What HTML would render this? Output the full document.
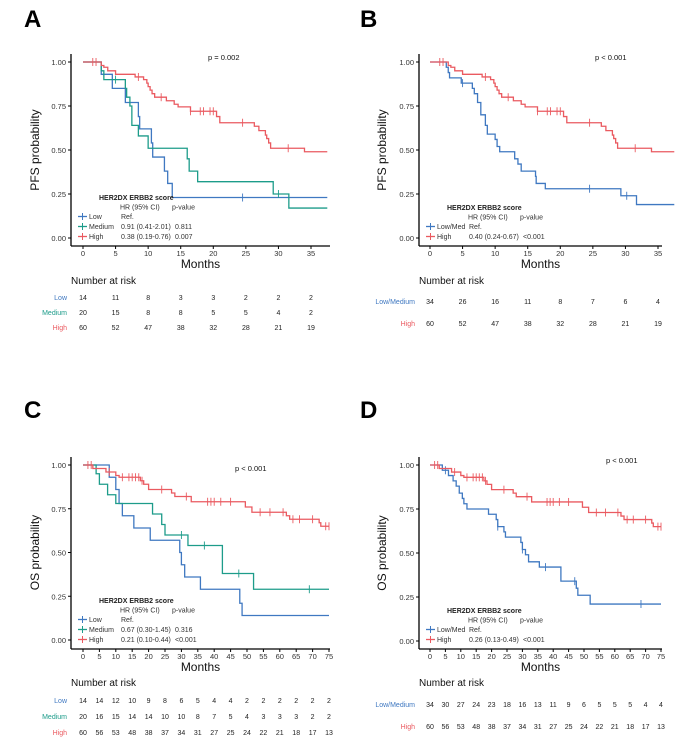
<!DOCTYPE html>
<html><head><meta charset="utf-8"><style>
html,body{margin:0;padding:0;background:#fff;}
svg{display:block;font-family:"Liberation Sans",Arial,sans-serif;}
</style></head><body>
<svg id="fig" width="695" height="743" viewBox="0 0 695 743">
<defs>
<clipPath id="clipC"><rect x="0" y="380" width="334" height="363"/></clipPath>
<clipPath id="clipD"><rect x="347" y="380" width="318" height="363"/></clipPath>
</defs>
</svg>
<script>
// ---------- data ----------
const pfsTimesTicks=[0,5,10,15,20,25,30,35];
const osTimesTicks=[0,5,10,15,20,25,30,35,40,45,50,55,60,65,70,75];
const yTicks=[0,0.25,0.5,0.75,1];
const yTickLabels=["0.00","0.25","0.50","0.75","1.00"];

const aLowT=[0,2.8,4.5,6.5,7,8.5,8.7,10.5,10.7,12.5,13,13.7,37.5];
const aLowS=[1,0.93,0.85,0.77,0.77,0.69,0.62,0.54,0.46,0.38,0.31,0.23,0.23];
const aLowC=[24.5];
const aMedT=[0,2.8,3.2,6.5,6.7,7.2,7.5,8.5,10,16,16.3,17.6,29.2,31.6,37.5];
const aMedS=[1,0.95,0.90,0.85,0.80,0.75,0.64,0.58,0.51,0.45,0.38,0.32,0.25,0.17,0.17];
const aMedC=[5,30];
const pfsHighT=[0,2.8,3.2,3.8,5,8,9.3,9.8,10,10.3,10.6,11,12.8,14,14.6,16.5,20.5,21,26.3,27,28,28.2,28.5,28.8,34,37.5];
const pfsHighS=[1,0.98,0.97,0.95,0.93,0.915,0.90,0.88,0.86,0.84,0.82,0.80,0.78,0.76,0.745,0.72,0.69,0.655,0.635,0.61,0.585,0.565,0.54,0.51,0.49,0.49];
const pfsHighC=[1.5,2,8.5,12,16.5,18,18.5,19.5,20,24.5,31.5];
const bLowT=[0,2.5,2.8,3,4.8,6.5,6.8,7.3,7.8,8.5,8.8,10,10.3,10.7,13,13.5,14,16.2,16.3,17.7,29.3,31.7,37.5];
const bLowS=[1,0.97,0.94,0.91,0.88,0.85,0.82,0.77,0.70,0.64,0.59,0.56,0.52,0.49,0.45,0.42,0.38,0.35,0.31,0.28,0.24,0.19,0.19];
const bLowC=[5,24.5,30.2];

const cLowT=[0,8,10,11,12,15.5,20.5,29.5,30,31,35.8,47.8,48.5,75];
const cLowS=[1,0.93,0.86,0.78,0.71,0.64,0.57,0.50,0.43,0.36,0.29,0.21,0.14,0.14];
const cLowC=[];
const cMedT=[0,4,5,7.5,10,21.2,24,25,32,42.5,52,75];
const cMedS=[1,0.95,0.89,0.83,0.78,0.72,0.66,0.60,0.54,0.38,0.29,0.29];
const cMedC=[30,37,47.5,69];
const osHighT=[0,3,7,10,11,17.5,18.5,20,27,28,33,49.5,51.5,62,63,72,72.5,75];
const osHighS=[1,0.98,0.96,0.94,0.93,0.91,0.89,0.86,0.84,0.82,0.79,0.76,0.73,0.71,0.69,0.67,0.65,0.65];
const osHighC=[1.5,2.5,8,12,14,15,16,17,18,24,31.5,38,39,40,42,45,54,57,61,64,66,70,74,75];
const dLowT=[0,4,6,7.5,8.5,9.5,10.5,11,12,19,21.5,22,24,24.5,29.5,30,31,32,35.5,42.5,47.5,48,52,75];
const dLowS=[1,0.97,0.94,0.91,0.88,0.84,0.81,0.78,0.75,0.72,0.69,0.65,0.62,0.59,0.56,0.52,0.49,0.45,0.42,0.34,0.30,0.26,0.21,0.21];
const dLowC=[5,22,30,37.5,47,68.5];

const riskALow=[14,11,8,3,3,2,2,2];
const riskAMed=[20,15,8,8,5,5,4,2];
const riskPFSHigh=[60,52,47,38,32,28,21,19];
const riskBLow=[34,26,16,11,8,7,6,4];
const riskCLow=[14,14,12,10,9,8,6,5,4,4,2,2,2,2,2,2];
const riskCMed=[20,16,15,14,14,10,10,8,7,5,4,3,3,3,2,2];
const riskOSHigh=[60,56,53,48,38,37,34,31,27,25,24,22,21,18,17,13];
const riskDLow=[34,30,27,24,23,18,16,13,11,9,6,5,5,5,4,4];

const RED="#ea5a60",BLUE="#3f78c1",TEAL="#1d9c8a";
const svg=document.getElementById('fig');
const NS="http://www.w3.org/2000/svg";
function mk(tag,attrs,parent,text){const e=document.createElementNS(NS,tag);for(const k in attrs)e.setAttribute(k,attrs[k]);if(text!==undefined)e.textContent=text;(parent||svg).appendChild(e);return e;}

function panel(P){
  const g=mk('g',{});
  
  
  const xs=t=>P.x0+(t-0)*(P.x1-P.x0)/P.tmax1;
  const ys=s=>P.y0-s*(P.y0-P.y1);
  let t=mk('text',{x:P.lx,y:P.ly,'font-size':24,'font-weight':'bold',fill:'#000'},g,P.id);
  
  let ax=mk('line',{x1:P.ax,y1:P.y1-8,x2:P.ax,y2:P.axY,stroke:'#000','stroke-width':1.3},g);
  
  let bx=mk('line',{x1:P.ax,y1:P.axY,x2:P.xr,y2:P.axY,stroke:'#000','stroke-width':1.3},g);
  
  yTicks.forEach((v,i)=>{
    mk('line',{x1:P.ax-3,x2:P.ax,y1:ys(v),y2:ys(v),stroke:'#000'},g);
    let l=mk('text',{x:P.ax-5,y:ys(v)+3,'font-size':7.5,'text-anchor':'end',fill:'#333'},g,yTickLabels[i]);
    
  });
  P.ticks.forEach(v=>{
    mk('line',{x1:xs(v),x2:xs(v),y1:P.axY,y2:P.axY+3,stroke:'#000'},g);
    let l=mk('text',{x:xs(v),y:P.axY+10,'font-size':7.5,'text-anchor':'middle',fill:'#333'},g,String(v));
    
  });
  let xt=mk('text',{x:(P.ax+P.xr)/2,y:P.axY+22,'font-size':12,'text-anchor':'middle',fill:'#111'},g,'Months');
  
  const yc=(P.y0+P.y1)/2;
  let yt=mk('text',{x:39,y:yc,'font-size':12,'text-anchor':'middle',fill:'#111',transform:`rotate(-90 39 ${yc})`},g,P.ytitle);
  
  let pv=mk('text',{x:P.px,y:P.py,'font-size':7.5,fill:'#111'},g,P.ptext);
  
  P.series.forEach(s=>{
    let d=`M${xs(s.T[0])},${ys(s.S[0])}`;
    for(let i=1;i<s.T.length;i++){d+=` H${xs(s.T[i])} V${ys(s.S[i])}`;}
    let p=mk('path',{d:d,fill:'none',stroke:s.c,'stroke-width':1.3},g);
    
    s.C.forEach(ct=>{
      let k=0;for(let i=0;i<s.T.length;i++){if(s.T[i]<=ct)k=i;}
      let m=mk('line',{x1:xs(ct),x2:xs(ct),y1:ys(s.S[k])-4,y2:ys(s.S[k])+4,stroke:s.c,'stroke-width':0.9},g);
      
    });
  });
  const L=P.leg;
  let lt=mk('text',{x:L.x+21,y:L.y,'font-size':7,'font-weight':'bold',fill:'#222'},g,'HER2DX ERBB2 score');
  
  mk('text',{x:L.x+42,y:L.y+9.5,'font-size':7,fill:'#333'},g,'HR (95% CI)');
  mk('text',{x:L.x+94,y:L.y+9.5,'font-size':7,fill:'#333'},g,'p-value');
  P.series.forEach((s,i)=>{
    const yy=L.y+19+i*10;
    const e=mk('g',{},g);
    
    mk('line',{x1:L.x,x2:L.x+9,y1:yy-2.5,y2:yy-2.5,stroke:s.c,'stroke-width':1.3},e);
    mk('line',{x1:L.x+4.5,x2:L.x+4.5,y1:yy-6,y2:yy+1,stroke:s.c,'stroke-width':1},e);
    mk('text',{x:L.x+11,y:yy,'font-size':7,fill:'#333'},e,s.label);
    mk('text',{x:L.x+43,y:yy,'font-size':7,fill:'#333'},e,s.hr);
    mk('text',{x:L.x+97,y:yy,'font-size':7,fill:'#333'},e,s.p);
  });
  const rg=mk('g',P.clip?{'clip-path':P.clip}:{},g);
  
  mk('text',{x:P.ax,y:P.riskY,'font-size':10,fill:'#111'},rg,'Number at risk');
  P.risk.forEach(r=>{
    mk('text',{x:P.ax-4,y:r.y,'font-size':7,'text-anchor':'end',fill:r.c},rg,r.label);
    r.v.forEach((v,j)=>{
      let n=mk('text',{x:xs(P.ticks[j]),y:r.y,'font-size':7,'text-anchor':'middle',fill:'#222'},rg,String(v));
      
    });
  });
}

panel({id:'A',lx:24,ly:27,ax:71,x0:83,x1:311,tmax1:35,xr:330,y0:238,y1:62,axY:246,ticks:pfsTimesTicks,
  ytitle:'PFS probability',px:208,py:60,ptext:'p = 0.002',
  series:[
   {name:'low',T:aLowT,S:aLowS,C:aLowC,c:BLUE,label:'Low',hr:'Ref.',p:''},
   {name:'medium',T:aMedT,S:aMedS,C:aMedC,c:TEAL,label:'Medium',hr:'0.91 (0.41-2.01)',p:'0.811'},
   {name:'high',T:pfsHighT,S:pfsHighS,C:pfsHighC,c:RED,label:'High',hr:'0.38 (0.19-0.76)',p:'0.007'}],
  leg:{x:78,y:200},riskY:284,
  risk:[{label:'Low',c:BLUE,v:riskALow,y:300},{label:'Medium',c:TEAL,v:riskAMed,y:315},{label:'High',c:RED,v:riskPFSHigh,y:330}]});

panel({id:'B',lx:360,ly:27,ax:419,x0:430,x1:658,tmax1:35,xr:662,y0:238,y1:62,axY:246,ticks:pfsTimesTicks,
  ytitle:'',px:595,py:60,ptext:'p < 0.001',
  series:[
   {name:'low-med',T:bLowT,S:bLowS,C:bLowC,c:BLUE,label:'Low/Med',hr:'Ref.',p:''},
   {name:'high',T:pfsHighT,S:pfsHighS,C:pfsHighC,c:RED,label:'High',hr:'0.40 (0.24-0.67)',p:'<0.001'}],
  leg:{x:426,y:210},riskY:284,
  risk:[{label:'Low/Medium',c:BLUE,v:riskBLow,y:304},{label:'High',c:RED,v:riskPFSHigh,y:326}]});

panel({id:'C',lx:24,ly:418,ax:71,x0:83,x1:329,tmax1:75,xr:330,y0:640,y1:465,axY:649,ticks:osTimesTicks,
  ytitle:'OS probability',px:235,py:471,ptext:'p < 0.001',
  series:[
   {name:'low',T:cLowT,S:cLowS,C:cLowC,c:BLUE,label:'Low',hr:'Ref.',p:''},
   {name:'medium',T:cMedT,S:cMedS,C:cMedC,c:TEAL,label:'Medium',hr:'0.67 (0.30-1.45)',p:'0.316'},
   {name:'high',T:osHighT,S:osHighS,C:osHighC,c:RED,label:'High',hr:'0.21 (0.10-0.44)',p:'<0.001'}],
  leg:{x:78,y:603},riskY:686,clip:'url(#clipC)',
  risk:[{label:'Low',c:BLUE,v:riskCLow,y:703},{label:'Medium',c:TEAL,v:riskCMed,y:719},{label:'High',c:RED,v:riskOSHigh,y:735}]});

panel({id:'D',lx:360,ly:418,ax:419,x0:430,x1:661,tmax1:75,xr:662,y0:641,y1:465,axY:649,ticks:osTimesTicks,
  ytitle:'',px:606,py:463,ptext:'p < 0.001',
  series:[
   {name:'low-med',T:dLowT,S:dLowS,C:dLowC,c:BLUE,label:'Low/Med',hr:'Ref.',p:''},
   {name:'high',T:osHighT,S:osHighS,C:osHighC,c:RED,label:'High',hr:'0.26 (0.13-0.49)',p:'<0.001'}],
  leg:{x:426,y:613},riskY:686,clip:'url(#clipD)',
  risk:[{label:'Low/Medium',c:BLUE,v:riskDLow,y:707},{label:'High',c:RED,v:riskOSHigh,y:729}]});

[[150,'PFS probability','y-axis-title-b'],[553,'OS probability','y-axis-title-d']].forEach(a=>{
  let t=mk('text',{x:386,y:a[0],'font-size':12,'text-anchor':'middle',fill:'#111',transform:`rotate(-90 386 ${a[0]})`},svg,a[1]);
  
  
});
</script>
</body></html>
